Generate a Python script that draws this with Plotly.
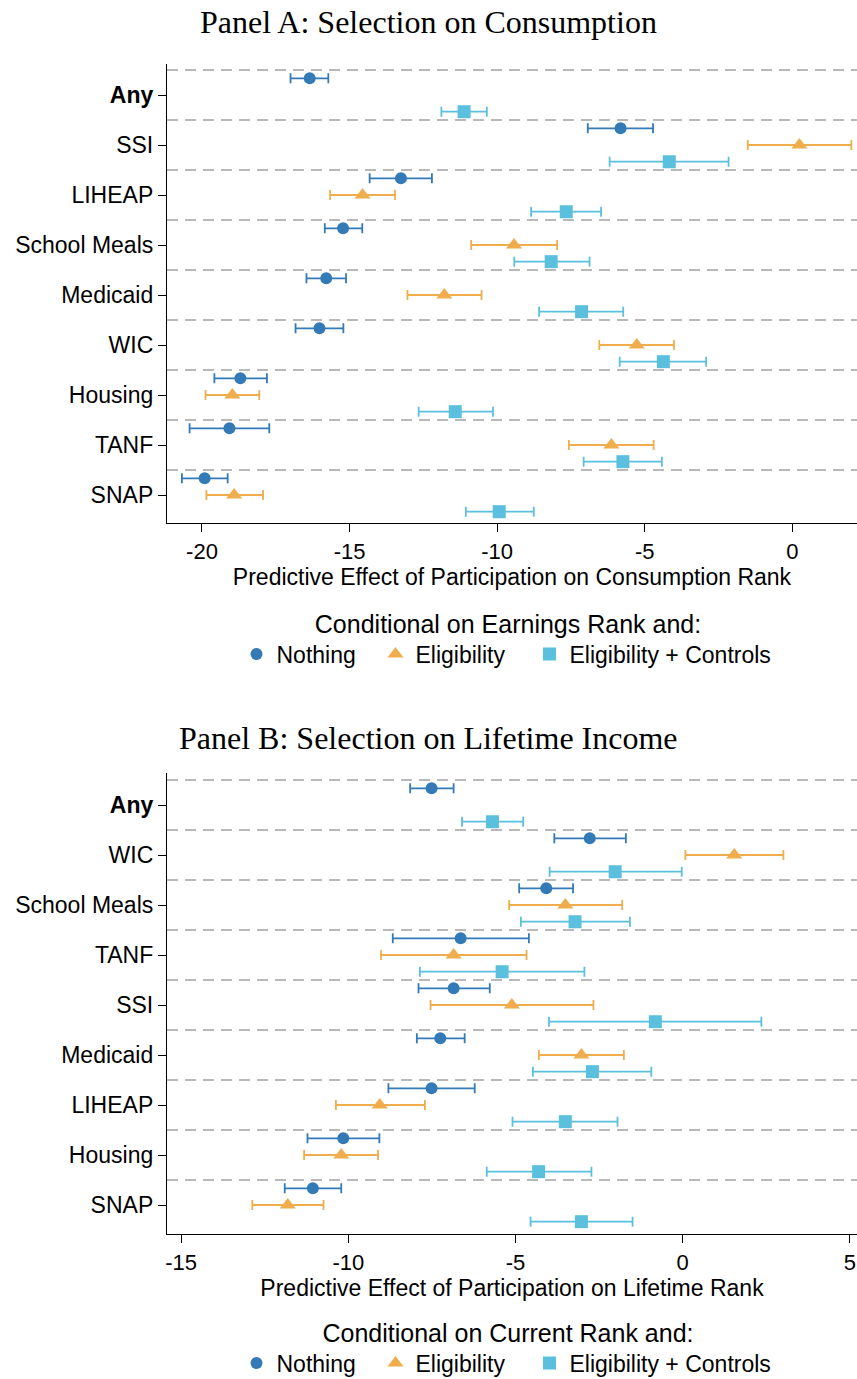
import plotly.graph_objects as go

# ---------------- data ----------------
cats_A = ["Any", "SSI", "LIHEAP", "School Meals", "Medicaid", "WIC", "Housing", "TANF", "SNAP"]
A_nothing = [-16.35, -5.82, -13.26, -15.22, -15.79, -16.02, -18.70, -19.07, -19.91]
A_nothing_lo = [-17.00, -6.93, -14.32, -15.84, -16.46, -16.83, -19.58, -20.42, -20.68]
A_nothing_hi = [-15.72, -4.72, -12.21, -14.57, -15.12, -15.21, -17.80, -17.72, -19.13]
A_elig = [None, 0.24, -14.56, -9.43, -11.79, -5.27, -18.97, -6.13, -18.91]
A_elig_lo = [None, -1.51, -15.66, -10.88, -13.04, -6.54, -19.88, -7.57, -19.85]
A_elig_hi = [None, 2.00, -13.46, -7.97, -10.53, -4.01, -18.06, -4.70, -17.93]
A_ctrl = [-11.12, -4.17, -7.66, -8.17, -7.14, -4.37, -11.42, -5.74, -9.93]
A_ctrl_lo = [-11.89, -6.19, -8.85, -9.42, -8.58, -5.85, -12.66, -7.07, -11.06]
A_ctrl_hi = [-10.35, -2.16, -6.48, -6.87, -5.73, -2.92, -10.14, -4.42, -8.76]

cats_B = ["Any", "WIC", "School Meals", "TANF", "SSI", "Medicaid", "LIHEAP", "Housing", "SNAP"]
B_nothing = [-7.51, -2.78, -4.08, -6.64, -6.85, -7.25, -7.51, -10.15, -11.06]
B_nothing_lo = [-8.15, -3.84, -4.89, -8.67, -7.90, -7.95, -8.80, -11.22, -11.90]
B_nothing_hi = [-6.85, -1.70, -3.28, -4.60, -5.77, -6.52, -6.22, -9.07, -10.21]
B_elig = [None, 1.54, -3.51, -6.85, -5.11, -3.03, -9.06, -10.21, -11.81]
B_elig_lo = [None, 0.08, -5.19, -9.02, -7.54, -4.30, -10.37, -11.32, -12.87]
B_elig_hi = [None, 3.01, -1.81, -4.67, -2.67, -1.76, -7.71, -9.11, -10.74]
B_ctrl = [-5.69, -2.02, -3.22, -5.40, -0.82, -2.70, -3.51, -4.31, -3.03]
B_ctrl_lo = [-6.60, -3.98, -4.84, -7.86, -4.00, -4.48, -5.09, -5.86, -4.55]
B_ctrl_hi = [-4.77, -0.03, -1.58, -2.94, 2.35, -0.94, -1.95, -2.73, -1.50]

series_names = ["Nothing", "Eligibility", "Eligibility + Controls"]
x_ticks_A = [-20, -15, -10, -5, 0]
x_ticks_B = [-15, -10, -5, 0, 5]
title_A = "Panel A: Selection on Consumption"
title_B = "Panel B: Selection on Lifetime Income"
xtitle_A = "Predictive Effect of Participation on Consumption Rank"
xtitle_B = "Predictive Effect of Participation on Lifetime Rank"
legtitle_A = "Conditional on Earnings Rank and:"
legtitle_B = "Conditional on Current Rank and:"

# ---------------- style ----------------
W, H = 857, 1379
L = 167
SANS = "Liberation Sans, Arial, Helvetica, sans-serif"
SERIF = "Liberation Serif, Times New Roman, serif"
COLORS = ["#337ab7", "#f0ad4e", "#5bc0de"]
SYMBOLS = ["circle", "triangle-up", "square"]
SIZES = [12, 14, 13]
OFFSETS = [-1 / 3, 0, 1 / 3]
LEGW = [94, 109, 205]

fig = go.Figure()


def add_panel(cats, data, xa, ya, leg):
    for k, (vals, lo, hi) in enumerate(data):
        xs, ys, ep, em = [], [], [], []
        for i, v in enumerate(vals):
            if v is None:
                continue
            xs.append(v)
            ys.append(i + OFFSETS[k])
            ep.append(hi[i] - v)
            em.append(v - lo[i])
        fig.add_trace(go.Scatter(
            x=xs, y=ys, mode="markers", name=series_names[k],
            marker=dict(color=COLORS[k], symbol=SYMBOLS[k], size=SIZES[k]),
            error_x=dict(type="data", symmetric=False, array=ep, arrayminus=em,
                         color=COLORS[k], thickness=1.8, width=5),
            xaxis=xa, yaxis=ya, legend=leg, legendwidth=LEGW[k],
            hoverinfo="x+y",
        ))
    # dashed separators between categories
    for i in range(len(cats)):
        fig.add_shape(type="line", xref=f"{xa} domain", yref=ya, x0=0, x1=1,
                      y0=i - 0.5, y1=i - 0.5,
                      line=dict(color="#a3a3a3", width=1.3, dash="11px,7px"), layer="below")


add_panel(cats_A, [(A_nothing, A_nothing_lo, A_nothing_hi), (A_elig, A_elig_lo, A_elig_hi),
                   (A_ctrl, A_ctrl_lo, A_ctrl_hi)], "x", "y", "legend")
add_panel(cats_B, [(B_nothing, B_nothing_lo, B_nothing_hi), (B_elig, B_elig_lo, B_elig_hi),
                   (B_ctrl, B_ctrl_lo, B_ctrl_hi)], "x2", "y2", "legend2")


def ypx(p):
    return 1 - p / H


axis_common = dict(showline=True, linecolor="black", linewidth=1.3, ticks="outside",
                   ticklen=8, tickwidth=1.3, tickcolor="black", showgrid=False, zeroline=False,
                   mirror=False)

ticktext_A = [f"<b>{c}</b>" if c == "Any" else c for c in cats_A]
ticktext_B = [f"<b>{c}</b>" if c == "Any" else c for c in cats_B]
LEGX = 0.5 - 4 / (W - L)

fig.update_layout(
    width=W, height=H,
    margin=dict(l=L, r=0, t=0, b=0, autoexpand=False),
    paper_bgcolor="white", plot_bgcolor="white",
    font=dict(family=SANS, color="black", size=22),
    xaxis=dict(axis_common, domain=[0, 1], anchor="y", range=[-21.185, 2.19],
               tickvals=x_ticks_A, ticktext=[str(t) for t in x_ticks_A],
               tickfont=dict(size=22), ticklabelstandoff=0,
               title=dict(text=xtitle_A, font=dict(size=23), standoff=4)),
    yaxis=dict(axis_common, domain=[ypx(523.3), ypx(64.3)], anchor="x",
               range=[8.566, -0.614], tickvals=list(range(len(cats_A))), ticktext=ticktext_A,
               tickfont=dict(size=23), ticklabelstandoff=0),
    xaxis2=dict(axis_common, domain=[0, 1], anchor="y2", range=[-15.42, 5.21],
                tickvals=x_ticks_B, ticktext=[str(t) for t in x_ticks_B],
                tickfont=dict(size=22), ticklabelstandoff=0,
                title=dict(text=xtitle_B, font=dict(size=23), standoff=4)),
    yaxis2=dict(axis_common, domain=[ypx(1234), ypx(773.3)], anchor="x2",
                range=[8.58, -0.634], tickvals=list(range(len(cats_B))), ticktext=ticktext_B,
                tickfont=dict(size=23), ticklabelstandoff=0),
    legend=dict(orientation="h", x=LEGX, xanchor="center", y=ypx(600), yanchor="top",
                title=dict(text=legtitle_A, side="top center", font=dict(size=25)),
                font=dict(size=23), bgcolor="rgba(0,0,0,0)", traceorder="normal"),
    legend2=dict(orientation="h", x=LEGX, xanchor="center", y=ypx(1309), yanchor="top",
                 title=dict(text=legtitle_B, side="top center", font=dict(size=25)),
                 font=dict(size=23), bgcolor="rgba(0,0,0,0)", traceorder="normal"),
    showlegend=True,
)

fig.add_annotation(text=title_A, xref="paper", yref="paper", x=(428.5 - L) / (W - L), y=ypx(22),
                   xanchor="center", yanchor="middle", showarrow=False,
                   font=dict(family=SERIF, size=32, color="black"))
fig.add_annotation(text=title_B, xref="paper", yref="paper", x=(428.5 - L) / (W - L), y=ypx(738),
                   xanchor="center", yanchor="middle", showarrow=False,
                   font=dict(family=SERIF, size=32, color="black"))

fig.write_html("out.html", config={"displayModeBar": False},
               post_script="document.body.style.margin='0';")
